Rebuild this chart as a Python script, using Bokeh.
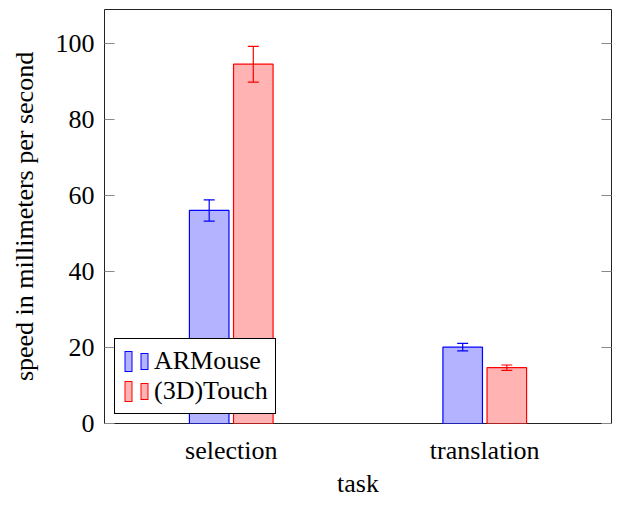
from bokeh.plotting import figure
from bokeh.models import (ColumnDataSource, Whisker, TeeHead, Legend, LegendItem,
                          LinearAxis, FixedTicker)
from bokeh.transform import dodge
from bokeh.embed import file_html
from bokeh.resources import INLINE

# ---- data ----
tasks = ["selection", "translation"]
armouse_mean = [56.1, 20.1]
armouse_err = [2.8, 1.0]
touch_mean = [94.6, 14.7]
touch_err = [4.7, 0.7]
series_names = ["ARMouse", "(3D)Touch"]
y_ticks = [0, 20, 40, 60, 80, 100]

BLUE, BLUE_FILL = "#0000ff", "#b3b3ff"
RED, RED_FILL = "#ff0000", "#ffb3b3"
FONT = "Liberation Serif"
FS = "26px"

src = ColumnDataSource(dict(
    task=tasks,
    a=armouse_mean,
    a_up=[m + e for m, e in zip(armouse_mean, armouse_err)],
    a_lo=[m - e for m, e in zip(armouse_mean, armouse_err)],
    t=touch_mean,
    t_up=[m + e for m, e in zip(touch_mean, touch_err)],
    t_lo=[m - e for m, e in zip(touch_mean, touch_err)],
))

p = figure(x_range=tasks, y_range=(0, 109), width=612, height=500,
           output_backend="svg", toolbar_location=None,
           min_border_left=104, min_border_right=1, min_border_top=9,
           min_border_bottom=10)
p.background_fill_color = "white"
p.border_fill_color = "white"
p.outline_line_color = "#222222"
p.outline_line_width = 1
p.xgrid.visible = False
p.ygrid.visible = False

off = 0.087
bw = 0.156
p.vbar(x=dodge("task", -off, range=p.x_range), top="a", width=bw, source=src,
       fill_color=BLUE_FILL, line_color=BLUE, line_width=1.2)
p.vbar(x=dodge("task", off, range=p.x_range), top="t", width=bw, source=src,
       fill_color=RED_FILL, line_color=RED, line_width=1.2)

for key, col, dx in (("a", BLUE, -off), ("t", RED, off)):
    w = Whisker(base=dodge("task", dx, range=p.x_range), upper=key + "_up",
                lower=key + "_lo", source=src, line_color=col, line_width=1.2,
                upper_head=TeeHead(size=11, line_color=col, line_width=1.2),
                lower_head=TeeHead(size=11, line_color=col, line_width=1.2))
    w.level = "overlay"
    p.add_layout(w)

# axes
xa = p.xaxis[0]
xa.axis_label = "task"
xa.axis_line_color = None
xa.major_tick_line_color = None
xa.minor_tick_line_color = None
xa.major_label_text_font = FONT
xa.major_label_text_font_size = FS
xa.major_label_text_color = "black"
xa.major_label_standoff = 6
xa.axis_label_text_font = FONT
xa.axis_label_text_font_size = FS
xa.axis_label_text_font_style = "normal"
xa.axis_label_text_color = "black"
xa.axis_label_standoff = 1

ya = p.yaxis[0]
ya.ticker = FixedTicker(ticks=y_ticks)
ya.axis_label = "speed in millimeters per second"
ya.axis_line_color = None
ya.major_tick_in = 10
ya.major_tick_out = 0
ya.major_tick_line_color = "#888888"
ya.minor_tick_line_color = None
ya.major_label_text_font = FONT
ya.major_label_text_font_size = FS
ya.major_label_text_color = "black"
ya.major_label_standoff = 10
ya.axis_label_text_font = FONT
ya.axis_label_text_font_size = FS
ya.axis_label_text_font_style = "normal"
ya.axis_label_text_color = "black"
ya.axis_label_standoff = 14

ra = LinearAxis(ticker=FixedTicker(ticks=y_ticks))
ra.axis_line_color = None
ra.major_tick_in = 10
ra.major_tick_out = 0
ra.major_tick_line_color = "#888888"
ra.minor_tick_line_color = None
ra.major_label_text_font_size = "1px"
ra.major_label_text_color = None
ra.major_label_standoff = 0
p.add_layout(ra, "right")

# legend glyphs: two small bars drawn via dashed thick lines (no visible data)
legend_src = ColumnDataSource(dict(x=tasks[:1], y=[float("nan")]))


def legend_bars(col, fill):
    rs = []
    specs = [
        (col, 21, "8 20", -2), (fill, 19, "6 22", -3),
        (col, 17, "8 20", -18), (fill, 15, "6 22", -19),
    ]
    for c, lw, dash, doff in specs:
        rs.append(p.line(x="x", y="y", source=legend_src, line_color=c,
                         line_width=lw, line_dash=dash, line_dash_offset=doff,
                         line_cap="butt"))
    return rs


items = [LegendItem(label=series_names[0], renderers=legend_bars(BLUE, BLUE_FILL)),
         LegendItem(label=series_names[1], renderers=legend_bars(RED, RED_FILL))]
leg = Legend(items=items, location=(10, 9))
leg.label_text_font = FONT
leg.label_text_font_size = FS
leg.label_text_color = "black"
leg.glyph_width = 28
leg.glyph_height = 26
leg.label_height = 26
leg.label_standoff = 4
leg.padding = 7
leg.spacing = 0
leg.margin = 0
leg.border_line_color = "black"
leg.border_line_width = 1
leg.border_line_alpha = 1
leg.background_fill_color = "white"
leg.background_fill_alpha = 1
p.add_layout(leg)

open("out.html", "w").write(file_html(p, INLINE))
